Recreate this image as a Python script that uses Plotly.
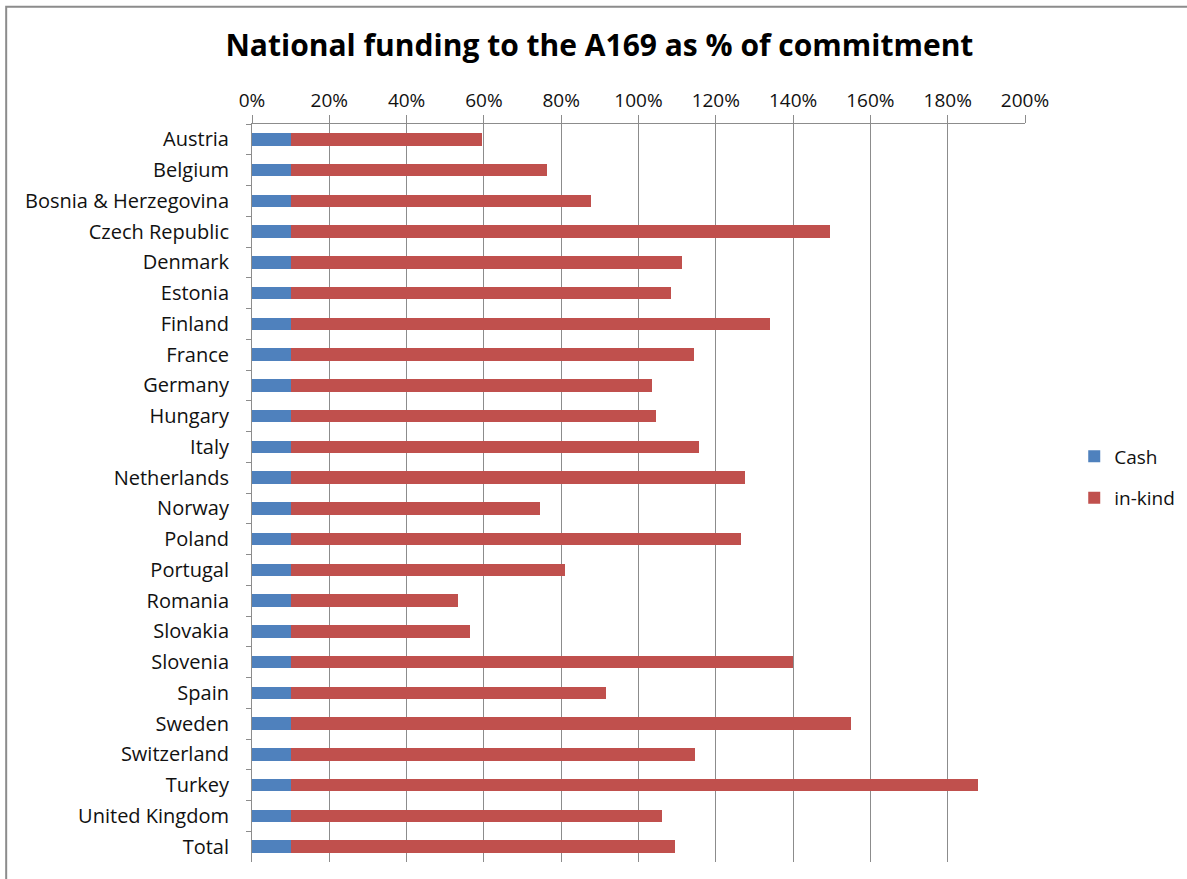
import plotly.graph_objects as go

countries = [
    "Austria", "Belgium", "Bosnia & Herzegovina", "Czech Republic", "Denmark",
    "Estonia", "Finland", "France", "Germany", "Hungary", "Italy", "Netherlands",
    "Norway", "Poland", "Portugal", "Romania", "Slovakia", "Slovenia", "Spain",
    "Sweden", "Switzerland", "Turkey", "United Kingdom", "Total",
]
# shares of commitment (fractions): cash part and in-kind part
cash = [0.10] * 24
in_kind = [
    0.495, 0.662, 0.776, 1.395, 1.013, 0.983, 1.240, 1.044, 0.935, 0.944,
    1.057, 1.175, 0.646, 1.166, 0.709, 0.432, 0.465, 1.300, 0.816, 1.450,
    1.046, 1.778, 0.962, 0.995,
]
x_ticks = [0, 0.2, 0.4, 0.6, 0.8, 1.0, 1.2, 1.4, 1.6, 1.8, 2.0]

FONT = "'Open Sans', Lato, sans-serif"
GRID = "#8c8c8c"
TEXT = "#111111"

fig = go.Figure()
fig.add_trace(go.Bar(
    y=countries, x=cash, name="Cash", orientation="h",
    marker=dict(color="#4F81BD", line=dict(width=0)),
    legendgroup="cash",
))
fig.add_trace(go.Bar(
    y=countries, x=in_kind, name="in-kind", orientation="h",
    marker=dict(color="#C0504D", line=dict(width=0)),
    legendgroup="inkind",
))

fig.update_layout(
    width=1187, height=879,
    barmode="stack", bargap=0.59,
    paper_bgcolor="white", plot_bgcolor="white",
    margin=dict(l=252, r=162, t=124, b=17, autoexpand=False),
    font=dict(family=FONT, size=19, color=TEXT),
    title=dict(
        text="<b>National funding to the A169 as % of commitment</b>",
        x=0.505, xanchor="center", y=0.948, yanchor="middle",
        font=dict(family=FONT, size=30, color="#000000"),
    ),
    legend=dict(
        xref="container", yref="container",
        x=0.905, xanchor="left", y=0.457, yanchor="middle",
        traceorder="grouped", tracegroupgap=14,
        font=dict(family=FONT, size=19, color=TEXT),
        itemwidth=30,
    ),
    xaxis=dict(
        side="top", range=[0, 2.0], tickvals=x_ticks, tickformat=".0%",
        showgrid=True, gridcolor=GRID, gridwidth=1,
        showline=True, linecolor=GRID, linewidth=1,
        ticks="outside", ticklen=8, tickcolor=GRID,
        tickfont=dict(family=FONT, size=19, color=TEXT),
        zeroline=False, fixedrange=True,
    ),
    yaxis=dict(
        autorange="reversed", showgrid=False,
        showline=True, linecolor=GRID, linewidth=1,
        ticks="outside", ticklen=5, tickcolor=GRID, tickson="boundaries",
        ticklabelstandoff=18,
        tickfont=dict(family=FONT, size=20, color=TEXT),
    ),
    shapes=[dict(
        type="rect", xref="paper", yref="paper",
        x0=-0.318, x1=1.3, y0=-0.05, y1=1.159,
        line=dict(color="#8c8c8c", width=2), fillcolor="rgba(0,0,0,0)",
        layer="below",
    )],
)

fig.write_html("out.html")
